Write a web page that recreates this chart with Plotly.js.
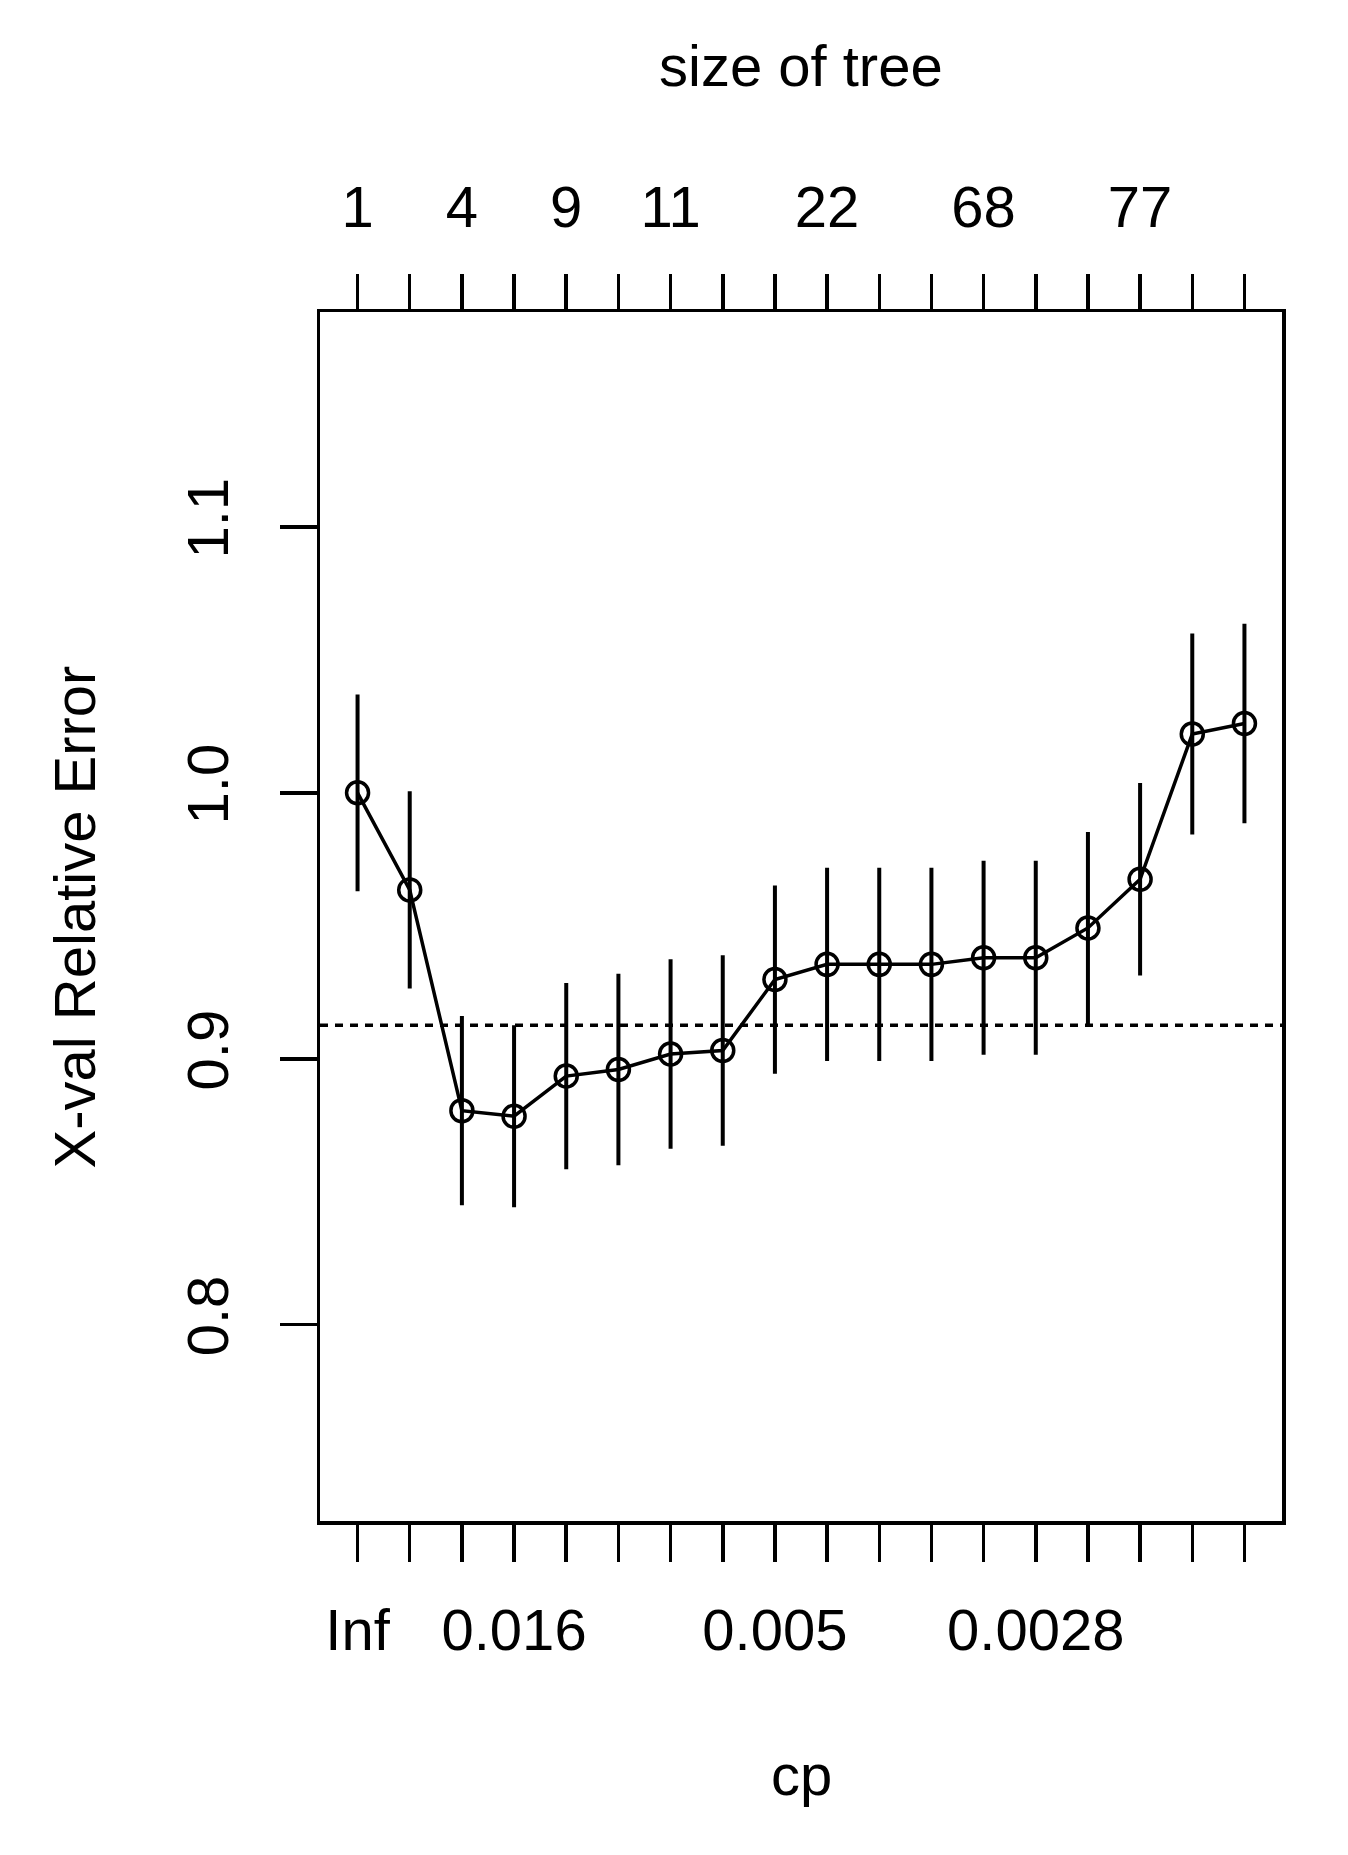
<!DOCTYPE html>
<html>
<head>
<meta charset="utf-8">
<script src="https://cdn.plot.ly/plotly-3.0.1.min.js"></script>
<style>
  html, body { margin: 0; padding: 0; background: #fff; }
  #chart { width: 1348px; height: 1855px; }
</style>
</head>
<body>
<div id="chart"></div>
<script>
// position of each cp step (1..18)
const positions = [1, 2, 3, 4, 5, 6, 7, 8, 9, 10, 11, 12, 13, 14, 15, 16, 17, 18];
// cross-validated relative error and its standard error
const xerror = [1.000, 0.9635, 0.8805, 0.8784, 0.8935, 0.8960, 0.9018, 0.9031, 0.9298,
                0.9355, 0.9355, 0.9355, 0.9380, 0.9380, 0.9492, 0.9675, 1.0221, 1.0261];
const xstd = [0.0370, 0.0371, 0.0356, 0.0342, 0.0350, 0.0360, 0.0356, 0.0358, 0.0354,
              0.0363, 0.0363, 0.0363, 0.0365, 0.0365, 0.0361, 0.0362, 0.0378, 0.0375];
// tick labels (only the ones R managed to draw)
const cpLabels = ["Inf", "", "", "0.016", "", "", "", "", "0.005", "", "", "", "", "0.0028", "", "", "", ""];
const sizeLabels = ["1", "", "4", "", "9", "", "11", "", "", "22", "", "", "68", "", "", "77", "", ""];
const yTicks = [0.8, 0.9, 1.0, 1.1];
const yTickText = ["0.8", "0.9", "1.0", "1.1"];
// 1-SE line level (min xerror + its std)
const threshold = 0.9126;

const font = { family: "Liberation Sans, Arial, sans-serif", size: 58, color: "#000" };
const xRange = [0.28, 18.72];
const yRange = [0.7262, 1.1808];

const traces = [
    {
        x: positions, y: xerror,
        type: "scatter", mode: "lines+markers",
        line: { color: "#000", width: 3.5 },
        marker: { symbol: "circle-open", size: 22, color: "#000", line: { width: 3.5, color: "#000" } },
        error_y: { type: "data", array: xstd, symmetric: true, width: 0, thickness: 4, color: "#000" },
        showlegend: false, hoverinfo: "x+y"
    },
    {
        // carries the top "size of tree" axis
        x: positions, y: xerror, xaxis: "x2",
        type: "scatter", mode: "markers",
        marker: { opacity: 0 }, showlegend: false, hoverinfo: "skip"
    }
];

const axisBase = {
    showgrid: false, zeroline: false,
    ticks: "outside", ticklen: 37, tickwidth: 3.5, tickcolor: "#000",
    tickfont: font
};

const layout = {
    width: 1348, height: 1855,
    margin: { l: 320, r: 66, t: 312, b: 334, pad: 0 },
    paper_bgcolor: "#fff", plot_bgcolor: "#fff",
    font: font,
    showlegend: false,
    xaxis: Object.assign({}, axisBase, {
        range: xRange,
        tickmode: "array", tickvals: positions, ticktext: cpLabels,
        showline: true, linecolor: "#000", linewidth: 3.5, mirror: true,
        ticklabelstandoff: 19
    }),
    xaxis2: Object.assign({}, axisBase, {
        range: xRange, overlaying: "x", side: "top", anchor: "y",
        tickmode: "array", tickvals: positions, ticktext: sizeLabels,
        showline: false,
        ticklabelstandoff: 24
    }),
    yaxis: Object.assign({}, axisBase, {
        range: yRange,
        tickmode: "array", tickvals: yTicks, ticktext: yTickText,
        tickangle: -90,
        showline: true, linecolor: "#000", linewidth: 3.5, mirror: true,
        ticklabelstandoff: 28
    }),
    shapes: [
        {
            type: "line", xref: "paper", x0: 0, x1: 1, yref: "y", y0: threshold, y1: threshold,
            line: { color: "#000", width: 3.5, dash: "8px,7px" }
        }
    ],
    annotations: [
        {
            text: "size of tree", xref: "paper", yref: "paper", x: 0.5, y: 1.2035,
            xanchor: "center", yanchor: "middle", showarrow: false, font: font
        },
        {
            text: "cp", xref: "paper", yref: "paper", x: 0.5, y: -0.210,
            xanchor: "center", yanchor: "middle", showarrow: false, font: font
        },
        {
            text: "X-val Relative Error", xref: "paper", yref: "paper", x: -0.2548, y: 0.5,
            xanchor: "center", yanchor: "middle", textangle: -90, showarrow: false, font: font
        }
    ]
};

Plotly.newPlot("chart", traces, layout, { staticPlot: true });
</script>
</body>
</html>
